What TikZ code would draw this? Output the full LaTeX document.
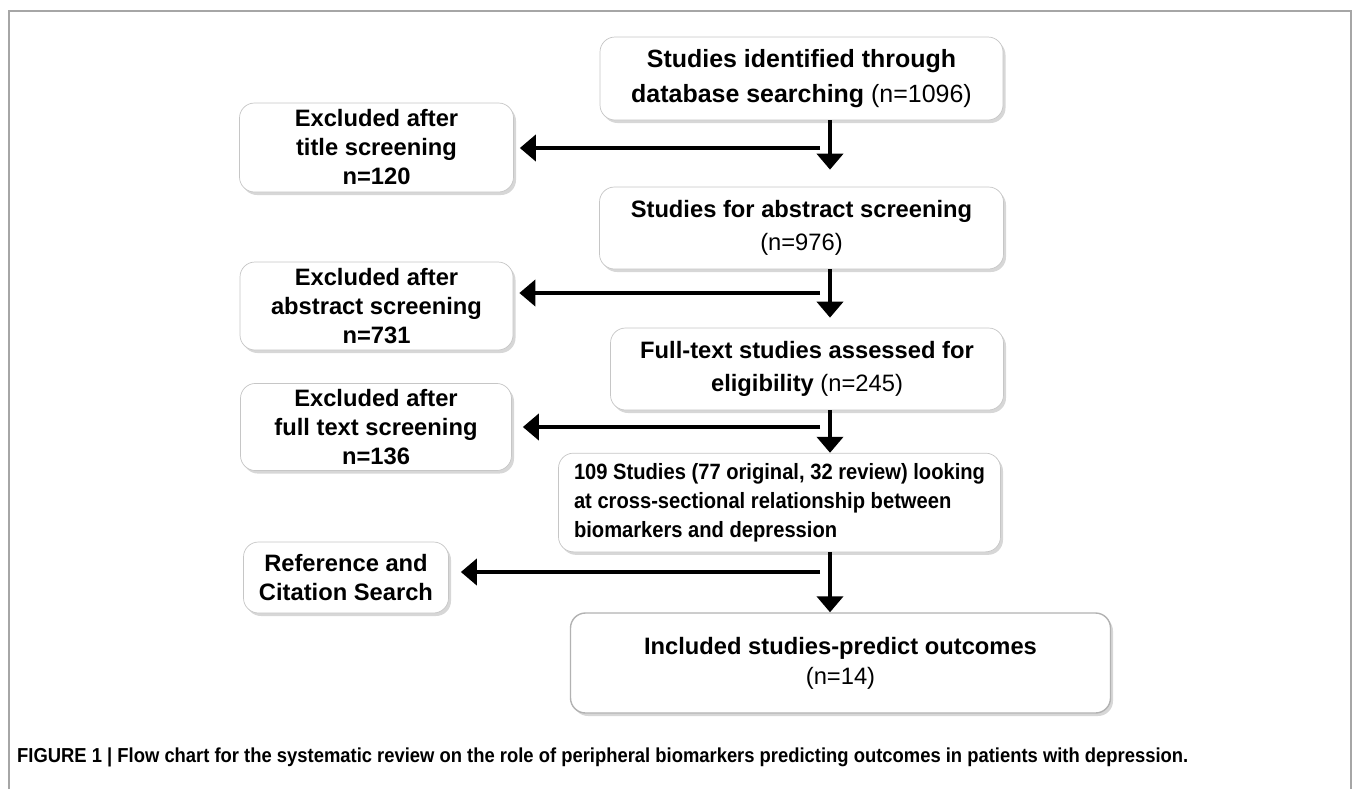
\documentclass[tikz,border=0pt]{standalone}
\usepackage{fontspec}
\setmainfont{Liberation Sans}
\usepackage{graphicx}
\usepackage{xcolor}
\usepackage{tikz}
\usetikzlibrary{shapes.geometric, arrows.meta, shadows}
\tikzstyle{stage} = [rectangle, rounded corners=0.3cm, text centered, align=center, draw=gray!45, fill=white, font=\bfseries\fontsize{13.5}{19}\selectfont, drop shadow={shadow xshift=0.05cm, shadow yshift=-0.06cm, opacity=0.35, fill=black!45}]
\tikzstyle{excl} = [rectangle, rounded corners=0.3cm, text centered, align=center, draw=gray!45, fill=white, font=\bfseries\fontsize{13.5}{16.5}\selectfont, drop shadow={shadow xshift=0.05cm, shadow yshift=-0.06cm, opacity=0.35, fill=black!45}]
\tikzstyle{arrow} = [line width=0.09cm, -{Triangle[width=0.52cm,length=0.32cm]}]

\begin{document}
\begin{tikzpicture}[node distance=2.9cm]
\useasboundingbox (0,0) rectangle (27.1,-15.78);
\draw [gray!70, line width=0.04cm] (0.18,-15.78) |- (27.02,-0.22) -- (27.02,-15.78);

\node (srch) [stage, font=\bfseries\fontsize{14.2}{19.5}\selectfont, minimum width=8.06cm, minimum height=1.66cm] at (16.03,-1.57) {Studies identified through\\database searching {\mdseries (n=1096)}};
\node (abs) [stage, minimum width=8.08cm, minimum height=1.64cm, below of=srch, yshift=-0.09cm] {Studies for abstract screening\\{\mdseries (n=976)}};
\node (full) [stage, minimum width=7.86cm, minimum height=1.64cm, below of=abs, xshift=0.11cm, yshift=0.08cm] {Full-text studies assessed for\\eligibility {\mdseries (n=245)}};
\node (cross) [excl, font=\bfseries\fontsize{12.6}{16.5}\selectfont, minimum width=8.84cm, minimum height=1.82cm, below of=full, xshift=-0.55cm, yshift=0.23cm] {\scalebox{0.91}[1]{\begin{tabular}{@{}l@{}}109 Studies (77 original, 32 review) looking\\at cross-sectional relationship between\\biomarkers and depression\end{tabular}}};
\node (incl) [stage, draw=gray!60, line width=0.8pt, font=\bfseries\fontsize{13.5}{17}\selectfont, minimum width=10.8cm, minimum height=2cm, below of=cross, xshift=1.22cm, yshift=-0.31cm] {Included studies-predict outcomes\\{\mdseries (n=14)}};

\node (ttl) [excl, minimum width=5.48cm, minimum height=1.78cm, left of=srch, node distance=8.5cm, yshift=-1.38cm] {Excluded after\\title screening\\n=120};
\node (exabs) [excl, minimum width=5.46cm, minimum height=1.76cm, left of=abs, node distance=8.5cm, yshift=-1.56cm] {Excluded after\\abstract screening\\n=731};
\node (exfull) [excl, minimum width=5.42cm, minimum height=1.64cm, left of=full, node distance=8.5cm, xshift=-0.12cm, yshift=-1.16cm] {Excluded after\\full text screening\\n=136};
\node (ref) [excl, minimum width=4.1cm, minimum height=1.42cm, left of=cross, node distance=8.5cm, xshift=-0.17cm, yshift=-1.5cm] {Reference and\\Citation Search};

\coordinate (spine) at (16.6,0);
\coordinate (c1) at (16.4,-2.96);
\coordinate (c2) at (16.4,-5.86);
\coordinate (c3) at (16.4,-8.54);
\coordinate (c4) at (16.4,-11.44);

\draw [arrow, shorten >=0.34cm] (srch.south -| spine) -- (abs.north -| spine);
\draw [arrow, shorten >=0.2cm] (abs.south -| spine) -- (full.north -| spine);
\draw [arrow] (full.south -| spine) -- (cross.north -| spine);
\draw [arrow] (cross.south -| spine) -- (incl.north -| spine);

\draw [arrow, shorten >=0.12cm] (c1) -- (c1 -| ttl.east);
\draw [arrow, shorten >=0.12cm] (c2) -- (c2 -| exabs.east);
\draw [arrow, shorten >=0.22cm] (c3) -- (c3 -| exfull.east);
\draw [arrow, shorten >=0.24cm] (c4) -- (c4 -| ref.east);

\node (cap) [anchor=west, font=\bfseries\fontsize{11.5}{13}\selectfont] at (0.22,-15.14) {\resizebox{23.42cm}{\height}{FIGURE 1 | Flow chart for the systematic review on the role of peripheral biomarkers predicting outcomes in patients with depression.}};

\end{tikzpicture}
\end{document}
